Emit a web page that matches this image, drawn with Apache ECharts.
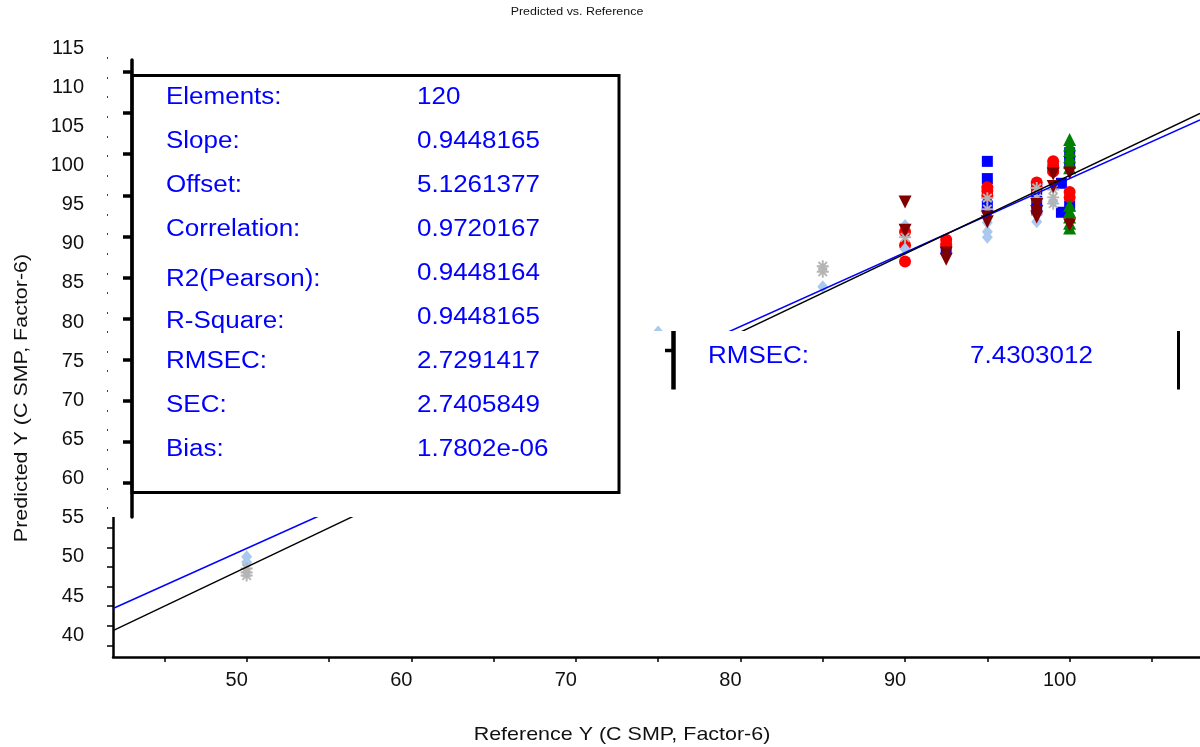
<!DOCTYPE html>
<html><head><meta charset="utf-8">
<script src="https://cdn.jsdelivr.net/npm/echarts@6/dist/echarts.min.js"></script>
<style>html,body{margin:0;padding:0;background:#fff}#c{width:1200px;height:747px}</style>
</head><body><div id="c"></div>
<script>
// ---------- data ----------
const chartTitle = 'Predicted vs. Reference';
const xName = 'Reference Y (C SMP, Factor-6)';
const yName = 'Predicted Y (C SMP, Factor-6)';
const xRange = [41.88, 107.92];
const yRange = [38.5, 117.3];
const xTickValues = [45, 50, 55, 60, 65, 70, 75, 80, 85, 90, 95, 100, 105];
const xLabelValues = [50, 60, 70, 80, 90, 100];
const yTickValues = [40, 42.5, 45, 47.5, 50, 52.5, 55, 57.5, 60, 62.5, 65, 67.5, 70, 72.5, 75, 77.5, 80, 82.5, 85, 87.5, 90, 92.5, 95, 97.5, 100, 102.5, 105, 107.5, 110, 112.5, 115];
const yLabelValues = [40, 45, 50, 55, 60, 65, 70, 75, 80, 85, 90, 95, 100, 105, 110, 115];
const boxAxisTicks = [0, 1, 2, 3, 4, 5, 6, 7, 8, 9, 10];
const boxAxisRange = [-0.827, 10.292];

const regSlope = 0.9448165;
const regOffset = 5.1261377;

const statNames = ['Elements:', 'Slope:', 'Offset:', 'Correlation:', 'R2(Pearson):', 'R-Square:', 'RMSEC:', 'SEC:', 'Bias:'];
const statValues = ['120', '0.9448165', '5.1261377', '0.9720167', '0.9448164', '0.9448165', '2.7291417', '2.7405849', '1.7802e-06'];
const panelName = 'RMSEC:';
const panelValue = '7.4303012';

const blueSquares = [[92.5,90.6],[95,101.8],[95,99.6],[95,96.1],[98,98.2],[98,96.7],[98,95.6],[99,100.9],[99.5,99.0],[99.5,95.3],[100,102.9],[100,101.8],[100,96.1]];
const redCircles = [[90,92.8],[90,91.1],[90,89.0],[92.5,91.8],[92.5,91.2],[95,98.5],[95,98.0],[95,97.4],[98,99.1],[98,98.4],[99,101.8],[99,101.1],[99,100.5],[100,97.9],[100,97.2]];
const greenTriangles = [[100,104.6],[100,103.9],[100,103.2],[100,102.4],[100,101.7],[100,101.0],[100,96.2],[100,95.4],[100,94.7],[100,93.9],[100,93.3]];
const lightBlueDiamonds = [[50,51.3],[50,50.6],[75,80.0],[85,85.8],[90,93.6],[90,90.6],[95,94.0],[95,92.8],[95,92.1],[98,95.0],[98,94.1],[99,96.6]];
const grayAsterisks = [[50,49.8],[50,49.3],[50,48.9],[85,88.4],[85,87.7],[90,92.1],[95,97.1],[95,95.7],[98,98.4],[98,97.1],[99,98.2],[99,97.2],[99,96.4]];
const darkRedTriangles = [[90,96.6],[90,93.0],[92.5,90.1],[92.5,89.3],[95,94.7],[95,94.1],[98,96.3],[98,95.4],[98,94.7],[99,100.2],[99,98.6],[100,100.3],[100,93.7]];

// ---------- chart ----------
const FONT = '"Liberation Sans", Arial, sans-serif';
const SX = 1.13; // horizontal stretch of the reference text
const asteriskPath = 'path://M4.2,0h1.6v3.1l2.2-2.2 1.1,1.1-2.2,2.2H10v1.6H6.9l2.2,2.2-1.1,1.1-2.2-2.2V10H4.2V6.9L2,9.1 0.9,8 3.1,5.8H0V4.2h3.1L0.9,2 2,0.9 4.2,3.1z';
const regLine = xRange.map(x => [x, regSlope * x + regOffset]);
const idLine = xRange.map(x => [x, x]);

function scatter(name, data, symbol, size, color, rotate) {
  return { name, type: 'scatter', data, symbol, symbolSize: size, symbolRotate: rotate || 0,
    itemStyle: { color, opacity: 1 }, xAxisIndex: 0, yAxisIndex: 0, animation: false, silent: true };
}
function txt(x, y, text, size, color, align, extra) {
  return Object.assign({ type: 'text', z: 70, x, y, scaleX: SX,
    style: { text, fill: color, font: size + 'px ' + FONT, textAlign: align || 'left', textVerticalAlign: 'middle' } }, extra || {});
}

const statLabelShift = [0, 0, 0, 0, 6, 4, 0, 0, 0];
const graphics = [
  { type: 'rect', z: 50, shape: { x: 108, y: 30, width: 542, height: 487 }, style: { fill: '#fff' } },
  { type: 'rect', z: 50, shape: { x: 108, y: 331, width: 1092, height: 186 }, style: { fill: '#fff' } },
  { type: 'rect', z: 60, shape: { x: 132, y: 75.5, width: 487, height: 417 }, style: { fill: '#fff', stroke: '#000', lineWidth: 3 } },
  { type: 'line', z: 60, shape: { x1: 673.5, y1: 331, x2: 673.5, y2: 389.5 }, style: { stroke: '#000', lineWidth: 4.5 } },
  { type: 'line', z: 60, shape: { x1: 665, y1: 350.5, x2: 673, y2: 350.5 }, style: { stroke: '#000', lineWidth: 3.5 } },
  { type: 'line', z: 60, shape: { x1: 1178.5, y1: 331, x2: 1178.5, y2: 389.5 }, style: { stroke: '#000', lineWidth: 3 } },
  txt(708, 357, panelName, 23, '#0000ff'),
  txt(970, 357, panelValue, 23, '#0000ff'),
  txt(577, 12, chartTitle, 11, '#111', 'center'),
  txt(622, 735, xName, 19, '#111', 'center'),
  txt(22, 398, yName, 19, '#111', 'center', { rotation: Math.PI / 2 })
];
statNames.forEach((n, i) => {
  graphics.push(txt(166, 98 + i * 44 + statLabelShift[i], n, 23, '#0000ff'));
  graphics.push(txt(417, 98 + i * 44, statValues[i], 23, '#0000ff'));
});

const chart = echarts.init(document.getElementById('c'), null, { renderer: 'canvas' });
chart.setOption({
  animation: false,
  backgroundColor: '#fff',
  grid: [
    { left: 113, right: 0, top: 40, bottom: 90 },
    { left: 132, top: 60, width: 20, height: 457 }
  ],
  xAxis: [
    { type: 'value', gridIndex: 0, min: xRange[0], max: xRange[1],
      axisLine: { show: true, lineStyle: { color: '#000', width: 2.5 } },
      axisTick: { show: true, customValues: xTickValues, length: 5, lineStyle: { color: '#000', width: 1.5 } },
      axisLabel: { show: true, customValues: xLabelValues, margin: 13, padding: [0, 20, 0, 0], fontSize: 20, color: '#111', fontFamily: FONT },
      splitLine: { show: false } },
    { type: 'value', gridIndex: 1, show: false, min: 0, max: 1 }
  ],
  yAxis: [
    { type: 'value', gridIndex: 0, min: yRange[0], max: yRange[1],
      axisLine: { show: true, lineStyle: { color: '#000', width: 2.5 } },
      axisTick: { show: true, customValues: yTickValues, length: 6, lineStyle: { color: '#000', width: 1.5 } },
      axisLabel: { show: true, customValues: yLabelValues, margin: 29, verticalAlign: 'bottom', fontSize: 20, color: '#111', fontFamily: FONT },
      splitLine: { show: false } },
    { type: 'value', gridIndex: 1, min: boxAxisRange[0], max: boxAxisRange[1], z: 80,
      axisLine: { show: true, lineStyle: { color: '#000', width: 3.5 } },
      axisTick: { show: true, customValues: boxAxisTicks, length: 9, lineStyle: { color: '#000', width: 3.5 } },
      axisLabel: { show: false }, splitLine: { show: false } }
  ],
  series: [
    scatter('squares', blueSquares, 'rect', 11, '#0000ff'),
    scatter('circles', redCircles, 'circle', 12, '#ff0000'),
    scatter('green', greenTriangles, 'triangle', 13, '#008000'),
    scatter('diamonds', lightBlueDiamonds, 'diamond', [11, 13], '#a9c9ee'),
    scatter('asterisks', grayAsterisks, asteriskPath, 12, '#b4b4b4'),
    scatter('darkred', darkRedTriangles, 'triangle', 13, '#800000', 180),
    { name: 'regression', type: 'line', data: regLine, symbol: 'none', lineStyle: { color: '#0000ff', width: 1.4 }, animation: false, silent: true, z: 3 },
    { name: 'target', type: 'line', data: idLine, symbol: 'none', lineStyle: { color: '#000', width: 1.4 }, animation: false, silent: true, z: 3 }
  ],
  graphic: graphics
});
</script></body></html>
